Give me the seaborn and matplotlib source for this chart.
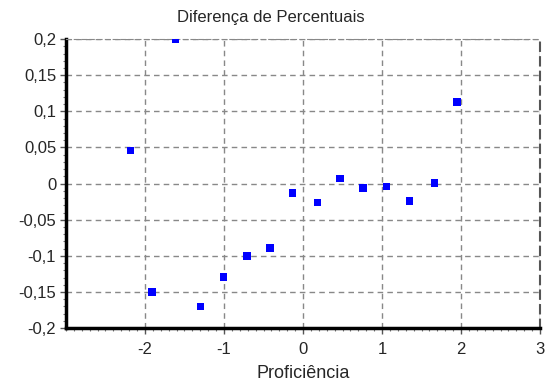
import matplotlib
matplotlib.use("Agg")
import matplotlib.pyplot as plt
import seaborn as sns
import pandas as pd
from matplotlib.ticker import MultipleLocator, FuncFormatter

proficiencia = [-2.18, -1.91, -1.61, -1.30, -1.01, -0.71, -0.42, -0.13, 0.18, 0.47, 0.76, 1.06, 1.35, 1.66, 1.95]
diferenca = [0.046, -0.150, 0.200, -0.170, -0.129, -0.100, -0.089, -0.013, -0.026, 0.007, -0.006, -0.004, -0.024, 0.001, 0.113]
x_ticks = [-2, -1, 0, 1, 2, 3]
y_ticks = [-0.2, -0.15, -0.1, -0.05, 0, 0.05, 0.1, 0.15, 0.2]

df = pd.DataFrame({"Proficiência": proficiencia, "Diferença": diferenca})

sns.set_style("white")
plt.rcParams['font.family'] = ['Liberation Sans', 'DejaVu Sans']

fig = plt.figure(figsize=(5.45, 3.87), dpi=100)
ax = fig.add_axes([0.121, 0.152, 0.870, 0.747])

sns.scatterplot(data=df, x="Proficiência", y="Diferença", marker="s", s=28,
                color="#0000ff", edgecolor="none", ax=ax, clip_on=True, zorder=3)

ax.set_xlim(-3, 3)
ax.set_ylim(-0.2, 0.2)
ax.set_xticks(x_ticks)
ax.set_yticks(y_ticks)
ax.xaxis.set_minor_locator(MultipleLocator(0.1))
ax.yaxis.set_minor_locator(MultipleLocator(0.01))

fmt = FuncFormatter(lambda v, p: (("%g" % round(v, 3)).replace(".", ",")))
ax.xaxis.set_major_formatter(fmt)
ax.yaxis.set_major_formatter(fmt)

ax.grid(True, which="major", linestyle=(0, (4, 3)), color="#888888", linewidth=1.0)
ax.tick_params(axis="both", which="major", direction="out", length=4, width=1,
               color="#555555", labelsize=12, pad=3, left=True, bottom=True)
ax.tick_params(axis="x", which="major", pad=6)
ax.tick_params(axis="both", which="minor", direction="out", length=2.5, width=0.8,
               color="#777777", left=True, bottom=True)

for side in ["left", "bottom"]:
    ax.spines[side].set_linewidth(2.5)
    ax.spines[side].set_color("black")
ax.spines["top"].set_visible(True)
ax.spines["top"].set_linestyle((0, (4, 3)))
ax.spines["top"].set_color("#888888")
ax.spines["right"].set_linestyle((0, (4, 3)))
ax.spines["right"].set_color("#555555")
ax.spines["right"].set_linewidth(1.5)

fig.text(0.496, 0.955, "Diferença de Percentuais", fontsize=12, ha="center", va="center")
ax.set_xlabel("Proficiência", fontsize=13, labelpad=6)
ax.set_ylabel("")

fig.savefig("out.png", dpi=100)
